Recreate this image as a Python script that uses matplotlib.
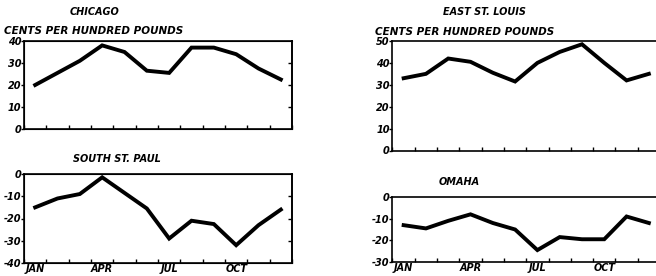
import numpy as np
import matplotlib
matplotlib.use("Agg")
import matplotlib.pyplot as plt

# Monthly values, cents per hundred pounds
months = np.arange(12) + 0.5
month_labels = ['JAN', 'APR', 'JUL', 'OCT']
chicago = [20, 25.5, 31, 38, 35, 26.5, 25.5, 37, 37, 34, 27.5, 22.5]
east_st_louis = [33, 35, 42, 40.5, 35.5, 31.5, 40, 45, 48.5, 40, 32, 35]
south_st_paul = [-15, -11, -9, -1.5, -8.5, -15.5, -29, -21, -22.5, -32, -23, -16]
omaha = [-13, -14.5, -11, -8, -12, -15, -24.5, -18.5, -19.5, -19.5, -9, -12]

plt.rcParams['axes.unicode_minus'] = False
plt.rcParams['font.family'] = 'DejaVu Sans'
W, H = 656, 276
fig = plt.figure(figsize=(W / 100, H / 100), dpi=100)

font = dict(fontweight='bold', fontstyle='italic', color='black')


def px_axes(left, top, right, bottom):
    # pixel box -> figure fraction
    return fig.add_axes([left / W, 1 - bottom / H, (right - left) / W, (bottom - top) / H])


def panel(box, values, ylim, yticks, right_spine, month_text):
    ax = px_axes(*box)
    ax.plot(months, values, color='black', lw=2.8, solid_joinstyle='miter')
    ax.set_xlim(0, 12)
    ax.set_ylim(*ylim)
    ax.set_yticks(yticks)
    ax.set_yticklabels([str(t) for t in yticks], fontsize=7, **font)
    ax.tick_params(axis='y', direction='out', length=2, width=1, pad=0)
    ax.set_xticks(np.arange(13))
    ax.set_xticklabels([])
    ax.tick_params(axis='x', which='major', direction='in', length=3, width=1)
    ax.set_xticks([0.5, 3.5, 6.5, 9.5], minor=True)
    if month_text:
        ax.set_xticklabels(month_labels, minor=True, fontsize=7, **font)
    ax.tick_params(axis='x', which='minor', length=0, pad=1)
    for s in ax.spines.values():
        s.set_linewidth(1.2)
    ax.spines['right'].set_visible(right_spine)
    if right_spine:
        ax2 = ax.twinx()
        ax2.set_ylim(*ylim)
        ax2.set_yticks(yticks[1:-1])
        ax2.set_yticklabels([])
        ax2.tick_params(axis='y', direction='in', length=3, width=1)
        ax2.spines['right'].set_linewidth(1.2)
    return ax


panel((24, 41, 292, 129), chicago, (0, 40), [0, 10, 20, 30, 40], True, False)
panel((24, 174, 292, 263), south_st_paul, (-40, 0), [0, -10, -20, -30, -40], True, True)
panel((392.5, 41, 660, 150.5), east_st_louis, (0, 50), [0, 10, 20, 30, 40, 50], False, False)
panel((392.5, 197, 660, 262), omaha, (-30, 0), [0, -10, -20, -30], False, True)


def label(x, y, s, size=7, ha='center'):
    fig.text(x / W, 1 - y / H, s, fontsize=size, ha=ha, va='center', **font)


label(95, 12, 'CHICAGO', 7)
label(4, 31, 'CENTS PER HUNDRED POUNDS', 7.5, ha='left')
label(484, 12, 'EAST ST. LOUIS', 7)
label(375, 32, 'CENTS PER HUNDRED POUNDS', 7.5, ha='left')
label(117, 159, 'SOUTH ST. PAUL', 7)
label(459, 182, 'OMAHA', 7)

fig.savefig('out.png', dpi=100)
